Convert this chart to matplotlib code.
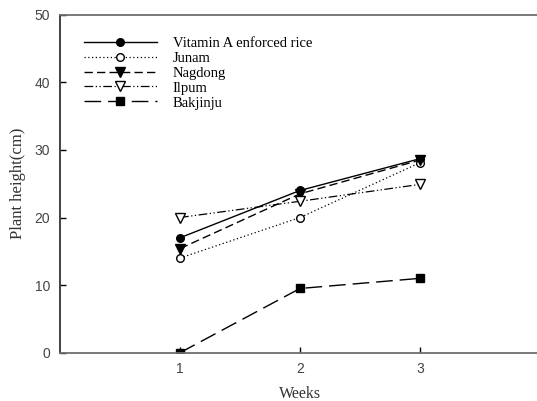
import numpy as np
import matplotlib
matplotlib.use("Agg")
import matplotlib.pyplot as plt

# datos
semanas = [1, 2, 3]
vitaminaA = [17.0, 24.0, 28.7]
junam = [14.0, 20.0, 28.1]
nagdong = [15.4, 23.5, 28.5]
ilpum = [20.0, 22.4, 24.9]
bakjinju = [0.0, 9.5, 11.0]
nombres = ["Vitamin A enforced rice", "Junam", "Nagdong", "Ilpum", "Bakjinju"]

fig = plt.figure(figsize=(5.37, 4.01), dpi=100)
ax = fig.add_axes([60/537, 48.3/401, 480/537, 338/401])

gris = "#6e6e6e"
ax.plot(semanas, vitaminaA, color="black", lw=1.0, ls="-", marker="o", ms=5.5,
        mfc="black", mec="black", label=nombres[0])
ax.plot(semanas, junam, color="black", lw=0.9, ls=(0, (1, 2)), marker="o", ms=5.5,
        mfc="white", mec="black", label=nombres[1])
ax.plot(semanas, nagdong, color="black", lw=1.0, ls=(0, (6, 3)), marker="v", ms=6.5,
        mfc="black", mec="black", label=nombres[2])
ax.plot(semanas, ilpum, color="black", lw=0.9, ls=(0, (7, 2, 1, 2, 1, 2)), marker="v", ms=6.5,
        mfc="white", mec="black", label=nombres[3])
ax.plot(semanas, bakjinju, color="black", lw=1.0, ls=(0, (12, 5)), marker="s", ms=5.5,
        mfc="black", mec="black", label=nombres[4])

ax.set_xlim(0, 4)
ax.set_ylim(0, 50)
ax.set_xticks([1, 2, 3])
ax.set_yticks([0, 10, 20, 30, 40, 50])
ax.tick_params(direction="in", length=4, width=1, color="black",
               labelsize=10, labelcolor="#444444", pad=7)
ax.spines["right"].set_visible(False)
for s in ["left", "bottom", "top"]:
    ax.spines[s].set_color(gris)
    ax.spines[s].set_linewidth(1.3)
ax.spines["left"].set_color("#333333")

for t in ax.get_xticklabels() + ax.get_yticklabels():
    t.set_family("Liberation Sans")

ax.set_xlabel("Weeks", family="Liberation Serif", fontsize=11.5, color="#333333", labelpad=7)
ax.set_ylabel("Plant height(cm)", family="Liberation Serif", fontsize=12, color="#333333", labelpad=6)

ax.legend(loc="upper left", bbox_to_anchor=(0.025, 0.97), frameon=False, handlelength=5.0,
          handletextpad=1.1, labelspacing=0.12, borderpad=0.3,
          prop={"family": "Liberation Serif", "size": 10.5})

fig.savefig("out.png", dpi=100)
